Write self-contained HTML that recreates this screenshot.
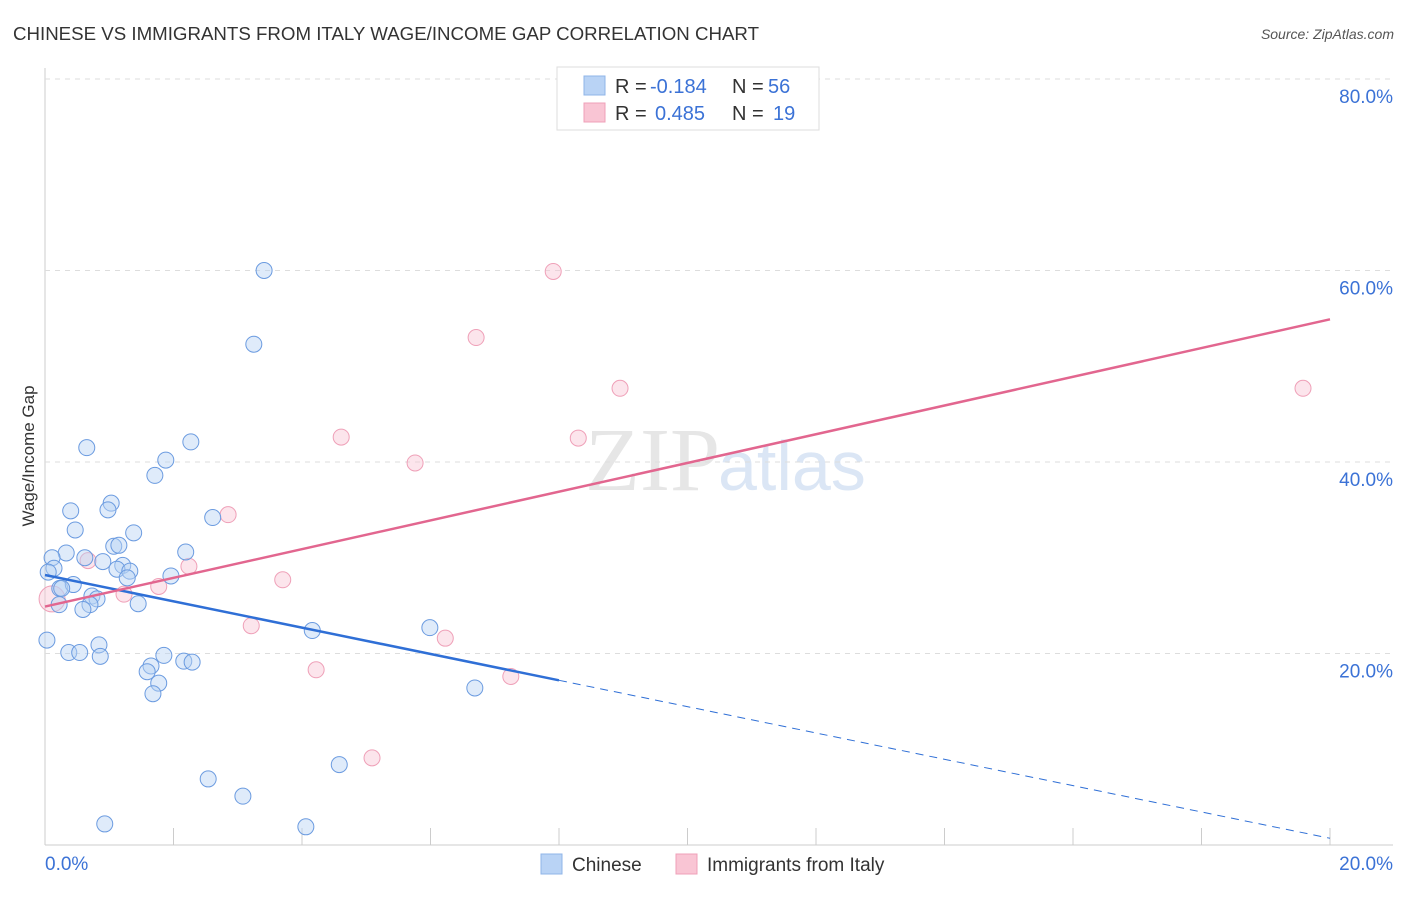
<!DOCTYPE html>
<html><head><meta charset="utf-8"><style>
body{margin:0;background:#fff;font-family:"Liberation Sans",sans-serif;}
</style></head><body>
<svg id="chart" width="1406" height="892" xmlns="http://www.w3.org/2000/svg" font-family="Liberation Sans, sans-serif">
<text x="13" y="40" font-size="18" fill="#333" textLength="746" lengthAdjust="spacingAndGlyphs">CHINESE VS IMMIGRANTS FROM ITALY WAGE/INCOME GAP CORRELATION CHART</text>
<text x="1394" y="39" font-size="14" fill="#555" font-style="italic" text-anchor="end">Source: ZipAtlas.com</text>
<text x="720" y="490" font-size="90" fill="#e6e6e6" text-anchor="end" font-family="Liberation Serif, serif">ZIP</text>
<text x="718" y="490" font-size="70" fill="#dbe6f5">atlas</text>
<g id="grid"></g>
<g id="marks"></g>
<text transform="translate(34,456) rotate(-90)" font-size="17" fill="#333" text-anchor="middle">Wage/Income Gap</text>
<g>
<rect x="557" y="67" width="262" height="63" fill="#fff" stroke="#ddd"/>
<rect x="584" y="76" width="21" height="19" fill="#b9d3f5" stroke="#8fb5e8"/>
<rect x="584" y="103" width="21" height="19" fill="#f9c5d4" stroke="#efa0b8"/>
<text x="615" y="93" font-size="20" fill="#333">R = <tspan x="650" fill="#3b72d6">-0.184</tspan><tspan x="732">N = </tspan><tspan x="768" fill="#3b72d6">56</tspan></text>
<text x="615" y="120" font-size="20" fill="#333">R = <tspan x="655" fill="#3b72d6">0.485</tspan><tspan x="732">N = </tspan><tspan x="773" fill="#3b72d6">19</tspan></text>
</g>
<g>
<rect x="541" y="854" width="21" height="20" fill="#b9d3f5" stroke="#8fb5e8"/>
<text x="572" y="871" font-size="19" fill="#333">Chinese</text>
<rect x="676" y="854" width="21" height="20" fill="#f9c5d4" stroke="#efa0b8"/>
<text x="707" y="871" font-size="19" fill="#333">Immigrants from Italy</text>
</g>
</svg>
<script>
const xTicks=[0,2,4,6,8,10,12,14,16,18,20];
const yTicks=[20,40,60,80];
const chineseX=[3.41,3.25,0.65,2.27,1.88,1.71,1.03,0.98,0.40,0.47,1.38,2.61,0.33,0.11,2.19,1.07,1.15,0.90,0.62,0.14,0.05,1.21,1.12,1.32,1.28,1.96,0.23,0.44,0.26,0.73,0.81,1.45,0.70,0.22,0.59,4.16,5.99,0.03,0.84,0.37,0.54,0.86,1.85,2.16,2.29,1.65,1.59,1.77,1.68,6.69,4.58,2.54,3.08,0.93,4.06];
const chineseY=[60.0,52.3,41.5,42.1,40.2,38.6,35.7,35.0,34.9,32.9,32.6,34.2,30.5,30.0,30.6,31.2,31.3,29.6,30.0,28.9,28.5,29.2,28.8,28.6,27.9,28.1,26.8,27.2,26.8,26.0,25.7,25.2,25.1,25.1,24.6,22.4,22.7,21.4,20.9,20.1,20.1,19.7,19.8,19.2,19.1,18.7,18.1,16.9,15.8,16.4,8.4,6.9,5.1,2.2,1.9];
const italyX=[7.91,6.71,8.95,19.58,4.61,5.76,8.30,2.85,0.67,2.24,1.77,1.23,3.70,0.11,3.21,6.23,4.22,7.25,5.09];
const italyY=[59.9,53.0,47.7,47.7,42.6,39.9,42.5,34.5,29.7,29.1,27.0,26.2,27.7,25.7,22.9,21.6,18.3,17.6,9.1];
const sizes={big:13};
const blueFit=[28.2,-1.375];
const pinkFit=[24.9,1.5];
const blueSolidEnd=8;

const X=v=>45+v*64.25, Y=v=>845-v*9.575;
const NS="http://www.w3.org/2000/svg";
const grid=document.getElementById('grid'), marks=document.getElementById('marks');
function mk(tag,attrs,parent){const e=document.createElementNS(NS,tag);for(const k in attrs)e.setAttribute(k,attrs[k]);parent.appendChild(e);return e;}
let ax=mk('line',{x1:45,y1:68,x2:45,y2:845,stroke:'#ccc'},grid);


let bx=mk('line',{x1:45,y1:845,x2:1393,y2:845,stroke:'#ccc'},grid);


yTicks.forEach(t=>{
  const l=mk('line',{x1:45,y1:Y(t),x2:1393,y2:Y(t),stroke:'#ddd','stroke-dasharray':'5,5'},grid);
  
  
  const tx=mk('text',{x:1393,y:Y(t)+24,'font-size':19,fill:'#3b72d6','text-anchor':'end'},grid);
  tx.textContent=t.toFixed(1)+'%';
  
  
});
xTicks.forEach(t=>{
  const l=mk('line',{x1:X(t),y1:828,x2:X(t),y2:845,stroke:'#ccc'},grid);
  
  
});
[[0,'start',45],[20,'end',1393]].forEach(([t,a,x])=>{
  const tx=mk('text',{x:x,y:870,'font-size':19,fill:'#3b72d6','text-anchor':a},grid);
  tx.textContent=t.toFixed(1)+'%';
  
  
});
italyX.forEach((v,i)=>{
  const c=mk('circle',{cx:X(v),cy:Y(italyY[i]),r:i==13?sizes.big:8,fill:'rgba(249,197,212,0.45)',stroke:'#efa0b8','stroke-width':1},marks);
  
  
});
chineseX.forEach((v,i)=>{
  const c=mk('circle',{cx:X(v),cy:Y(chineseY[i]),r:8,fill:'rgba(185,211,245,0.45)',stroke:'#6b9be0','stroke-width':1},marks);
  
  
});
const fy=(f,x)=>f[0]+f[1]*x;
let bl=mk('line',{x1:X(0),y1:Y(fy(blueFit,0)),x2:X(blueSolidEnd),y2:Y(fy(blueFit,blueSolidEnd)),stroke:'#2f6fd6','stroke-width':2.5},marks);


let bd=mk('line',{x1:X(blueSolidEnd),y1:Y(fy(blueFit,blueSolidEnd)),x2:X(20),y2:Y(fy(blueFit,20)),stroke:'#2f6fd6','stroke-width':1,'stroke-dasharray':'8,6'},marks);


let pl=mk('line',{x1:X(0),y1:Y(fy(pinkFit,0)),x2:X(20),y2:Y(fy(pinkFit,20)),stroke:'#e2668f','stroke-width':2.5},marks);


</script>
</body></html>
